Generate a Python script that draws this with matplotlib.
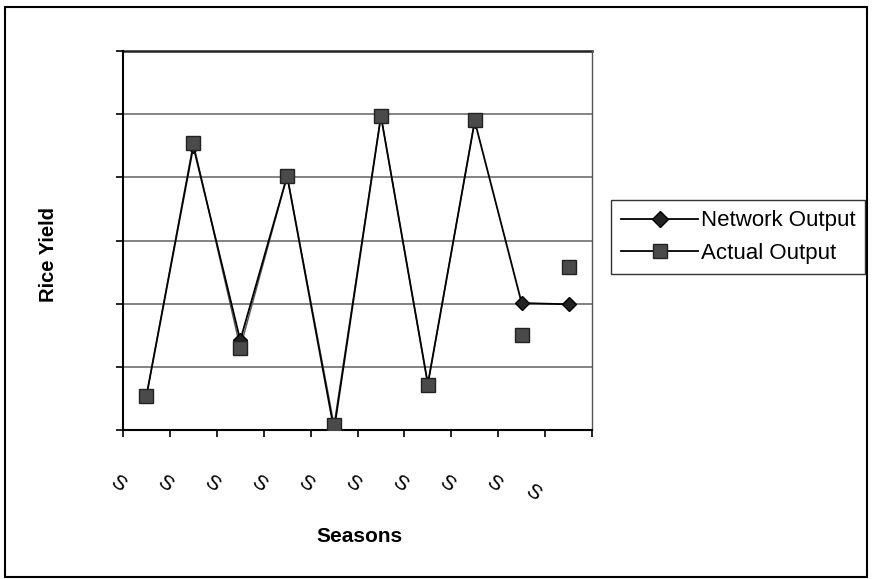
import matplotlib
matplotlib.use("Agg")
import matplotlib.pyplot as plt
from matplotlib.lines import Line2D
from matplotlib.patches import Rectangle
import matplotlib.transforms as mtransforms

plt.rcParams['font.family'] = ['Liberation Sans', 'DejaVu Sans']

categories = ["S"] * 10
network_output = [0.54, 4.49, 1.42, 4.02, 0.00, 4.97, 0.73, 4.89, 2.01, 1.99]
actual_output = [0.54, 4.54, 1.30, 4.02, 0.08, 4.97, 0.72, 4.90, 1.50, 2.58]
actual_connected = 8  # actual series line drawn only through first 8 seasons
y_ticks = [0, 1, 2, 3, 4, 5, 6]

W, H = 873, 579
fig = plt.figure(figsize=(W / 100, H / 100), dpi=100)
ax = fig.add_axes([123 / W, 1 - 430 / H, (592 - 123) / W, (430 - 51) / H])

x = list(range(len(categories)))

# gridlines
for yv in y_ticks[1:]:
    ax.axhline(yv, color='#7a7a7a' if yv < 6 else '#222222', lw=1.3 if yv < 6 else 1.8,
               zorder=1, clip_on=False)

# network output
ax.plot(x, network_output, color='black', lw=1.3, zorder=3,
        marker='D', markersize=7, markerfacecolor='#222222', markeredgecolor='black')
# actual output
ax.plot(x[:actual_connected], actual_output[:actual_connected], color='#555555', lw=1.0, zorder=2)
ax.plot(x, actual_output, ls='none', marker='s', markersize=9.5,
        markerfacecolor='#4a4a4a', markeredgecolor='#222222', markeredgewidth=1.0, zorder=4)

ax.set_xlim(-0.5, len(categories) - 0.5)
ax.set_ylim(0, 6)
ax.set_xticks([i - 0.5 for i in range(len(categories) + 1)])
ax.set_xticklabels([])
ax.set_yticks(y_ticks)
ax.set_yticklabels([])
ax.tick_params(axis='both', direction='out', length=5, width=1.2, color='black')
for side in ['left', 'bottom']:
    ax.spines[side].set_linewidth(1.5)
ax.spines['top'].set_visible(False)
ax.spines['right'].set_linewidth(1.0)
ax.spines['right'].set_color('#555555')

# category labels
trans = mtransforms.blended_transform_factory(ax.transData, ax.transAxes)
for i, lab in enumerate(categories):
    if i < len(categories) - 1:
        xo, yo = i - 0.6, -0.14
    else:
        xo, yo = i - 0.77, -0.164
    ax.text(xo, yo, lab, transform=trans, rotation=-35, ha='center', va='center',
            fontsize=15)

fig.text(48 / W, 1 - 255 / H, "Rice Yield", rotation=90, ha='center', va='center',
         fontsize=14.5, fontweight='bold')
fig.text(359 / W, 1 - 536 / H, "Seasons", ha='center', va='center',
         fontsize=15, fontweight='bold')

# legend
handles = [
    Line2D([0], [0], color='black', lw=1.3, marker='D', markersize=8,
           markerfacecolor='#222222', markeredgecolor='black'),
    Line2D([0], [0], color='black', lw=1.3, marker='s', markersize=10,
           markerfacecolor='#4a4a4a', markeredgecolor='#222222'),
]
leg = fig.legend(handles, ["Network Output", "Actual Output"], loc='center',
                 bbox_to_anchor=(738 / W, 1 - 237 / H), fontsize=16, frameon=True,
                 fancybox=False, edgecolor='black', handlelength=3.5, handletextpad=0.1,
                 borderpad=0.45, labelspacing=0.5, borderaxespad=0)
leg.get_frame().set_linewidth(1.0)

# outer frame
fig.patches.append(Rectangle((5 / W, 1 - 577 / H), (867 - 5) / W, (577 - 7) / H,
                             transform=fig.transFigure, fill=False, edgecolor='black',
                             lw=1.5))

fig.savefig("out.png", dpi=100)
